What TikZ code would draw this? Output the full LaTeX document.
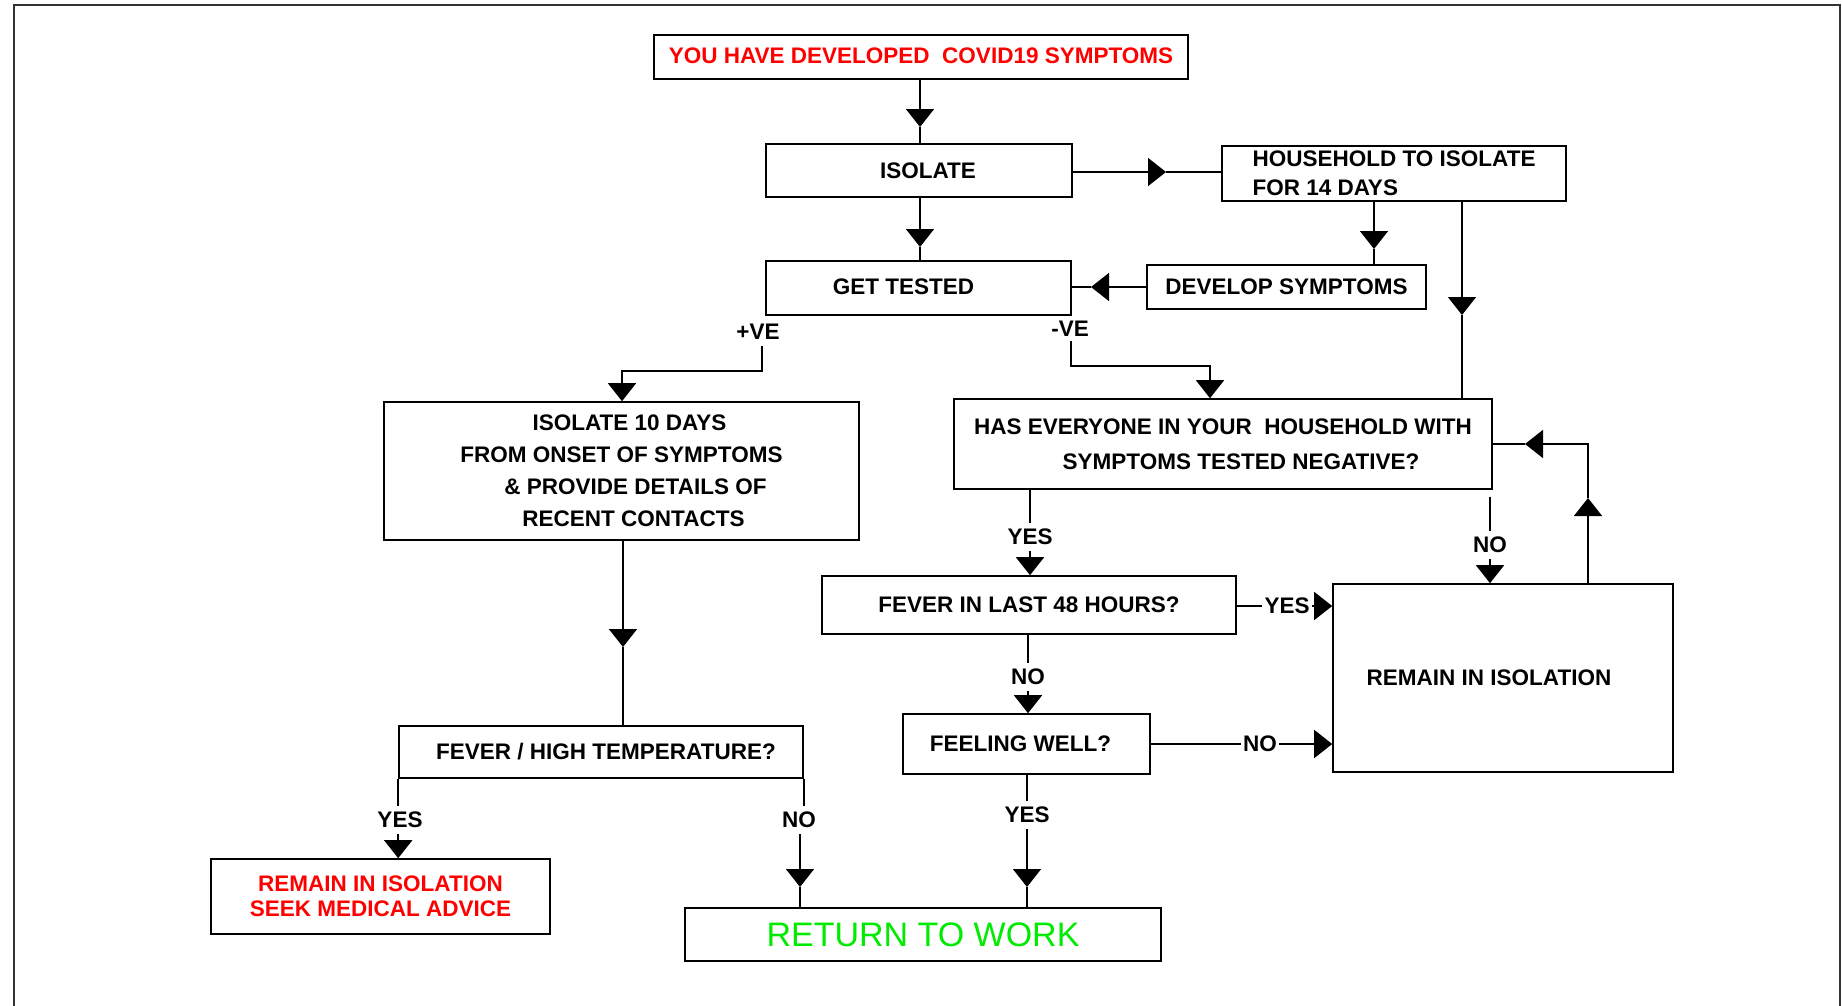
\documentclass[tikz,border=0pt]{standalone}
\usepackage{fontspec}
\setmainfont{Liberation Sans}
\usetikzlibrary{arrows.meta}
\definecolor{warnred}{RGB}{255,0,0}
\definecolor{okgreen}{RGB}{0,235,0}
\begin{document}
\begin{tikzpicture}[x=1pt,y=-1pt,
  box/.style={draw, line width=1.6pt, rectangle, inner sep=2pt, align=center,
    font=\bfseries\fontsize{22.5}{29}\selectfont},
  lbl/.style={inner xsep=2pt, inner ysep=6pt, font=\bfseries\fontsize{22.5}{26}\selectfont},
  conn/.style={line width=1.6pt},
  arr/.style={-{Triangle[width=28pt,length=18pt]}}]
\useasboundingbox (0,0) rectangle (1842,1005);
\fill[white] (0,0) rectangle (1842,1005);
\draw[line width=2.5pt, black!80] (14,1010) -- (14,5) -- (1840,5) -- (1840,1010);

% boxes
\node[box, minimum width=534pt, minimum height=44pt, text=warnred] (top) at (921,57) {\raisebox{3pt}{YOU HAVE DEVELOPED\ \ COVID19 SYMPTOMS}};
\node[box, minimum width=306pt, minimum height=53pt] (iso) at (919,170.5) {\hspace*{18pt}ISOLATE};
\node[box, minimum width=344pt, minimum height=55pt, align=left] (hh) at (1394,173.5) {HOUSEHOLD TO ISOLATE\\FOR 14 DAYS};
\node[box, minimum width=305pt, minimum height=54pt] (gt) at (918.5,288) {\raisebox{3pt}{GET TESTED}\hspace*{30pt}};
\node[box, minimum width=279pt, minimum height=44pt] (dev) at (1286.5,287) {DEVELOP SYMPTOMS};
\node[box, minimum width=538pt, minimum height=90pt, font=\bfseries\fontsize{22.5}{35}\selectfont] (has) at (1223,444) {HAS EVERYONE IN YOUR\ \ HOUSEHOLD WITH\\\hspace*{36pt}SYMPTOMS TESTED NEGATIVE?};
\node[box, minimum width=475pt, minimum height=138pt, font=\bfseries\fontsize{22.5}{32}\selectfont] (iso10) at (621.5,471) {\hspace*{16pt}ISOLATE 10 DAYS\\FROM ONSET OF SYMPTOMS\\\hspace*{28pt}\& PROVIDE DETAILS OF\\\hspace*{24pt}RECENT CONTACTS};
\node[box, minimum width=414pt, minimum height=58pt] (f48) at (1029,605) {FEVER IN LAST 48 HOURS?};
\node[box, minimum width=340pt, minimum height=188pt] (rem) at (1503,678) {REMAIN IN ISOLATION\hspace*{28pt}};
\node[box, minimum width=247pt, minimum height=60pt] (fw) at (1026.5,744) {FEELING WELL?\hspace*{12pt}};
\node[box, minimum width=404pt, minimum height=52pt] (fh) at (601,752) {\hspace*{10pt}FEVER / HIGH TEMPERATURE?};
\node[box, minimum width=339pt, minimum height=75pt, text=warnred, font=\bfseries\fontsize{22.5}{25}\selectfont] (seek) at (380.5,896.5) {REMAIN IN ISOLATION\\SEEK MEDICAL ADVICE};
\node[box, minimum width=476pt, minimum height=53pt, text=okgreen, font=\fontsize{34}{40}\selectfont] (ret) at (923,934.5) {RETURN TO WORK};

% top -> isolate -> get tested
\coordinate (a1) at (920,127);
\draw[conn,arr] (top.south -| a1) -- (a1);
\draw[conn] (a1) -- (iso.north -| a1);
\coordinate (a2) at (920,247);
\draw[conn,arr] (iso.south -| a2) -- (a2);
\draw[conn] (a2) -- (gt.north -| a2);
% isolate -> household
\coordinate (a3) at (1166,172);
\draw[conn,arr] (iso.east |- a3) -- (a3);
\draw[conn] (a3) -- (hh.west |- a3);
% household -> develop
\coordinate (a4) at (1374,249);
\draw[conn,arr] (hh.south -| a4) -- (a4);
\draw[conn] (a4) -- (dev.north -| a4);
% develop -> get tested
\coordinate (a5) at (1091,287);
\draw[conn,arr] (dev.west |- a5) -- (a5);
\draw[conn] (a5) -- (gt.east |- a5);
% household -> has everyone
\coordinate (a6) at (1462,315);
\draw[conn,arr] (hh.south -| a6) -- (a6);
\draw[conn] (a6) -- (has.north -| a6);

% +VE
\node[lbl] (pve) at (758,332) {+VE};
\coordinate (p1) at (762,346);
\coordinate (p2) at (762,371);
\coordinate (p3) at (622,371);
\draw[conn,arr] (p1) -- (p2) -- (p3) -- (iso10.north -| p3);
% -VE
\node[lbl] (nve) at (1070,329) {-VE};
\coordinate (m1) at (1071,341);
\coordinate (m2) at (1071,366);
\coordinate (m3) at (1210,366);
\draw[conn,arr] (m1) -- (m2) -- (m3) -- (has.north -| m3);

% has -> f48 (YES)
\node[lbl] (y1) at (1030,537) {YES};
\draw[conn] (has.south -| y1) -- (y1.north);
\draw[conn,arr] (y1.south) -- (f48.north -| y1);
% has -> rem (NO)
\node[lbl] (n1) at (1490,545) {NO};
\draw[conn, shorten <=7pt] (has.south -| n1) -- (n1.north);
\draw[conn,arr] (n1.south) -- (rem.north -| n1);
% f48 -> rem (YES)
\node[lbl] (y2) at (1287,606) {YES};
\draw[conn] (f48.east |- y2) -- (y2.west);
\draw[conn,arr] (y2.east) -- (rem.west |- y2);
% rem -> has loop
\coordinate (r1) at (1588,498);
\coordinate (r2) at (1588,444);
\coordinate (r3) at (1525,444);
\draw[conn,arr] (rem.north -| r1) -- (r1);
\draw[conn,arr] (r1) -- (r2) -- (r3);
\draw[conn] (r3) -- (has.east |- r3);
% f48 -> fw (NO)
\node[lbl] (n2) at (1028,677) {NO};
\draw[conn] (f48.south -| n2) -- (n2.north);
\draw[conn,arr] (n2.south) -- (fw.north -| n2);
% fw -> rem (NO)
\node[lbl] (n3) at (1260,744) {NO};
\draw[conn] (fw.east |- n3) -- (n3.west);
\draw[conn,arr] (n3.east) -- (rem.west |- n3);
% fw -> ret (YES)
\node[lbl] (y3) at (1027,815) {YES};
\draw[conn] (fw.south -| y3) -- (y3.north);
\coordinate (t1) at (1027,887);
\draw[conn,arr] (y3.south) -- (t1);
\draw[conn] (t1) -- (ret.north -| t1);
% iso10 -> fh
\coordinate (t2) at (623,647);
\draw[conn,arr] (iso10.south -| t2) -- (t2);
\draw[conn] (t2) -- (fh.north -| t2);
% fh -> seek (YES)
\node[lbl] (y4) at (400,820) {YES};
\draw[conn] (fh.south west) -- (fh.south west |- y4.north);
\draw[conn,arr] (y4.south -| fh.south west) -- (seek.north -| fh.south west);
% fh -> ret (NO)
\node[lbl] (n4) at (799,820) {NO};
\draw[conn] (fh.south east) -- (fh.south east |- n4.north);
\coordinate (t3) at (800,887);
\draw[conn,arr] (n4.south -| t3) -- (t3);
\draw[conn] (t3) -- (ret.north -| t3);
\end{tikzpicture}
\end{document}
